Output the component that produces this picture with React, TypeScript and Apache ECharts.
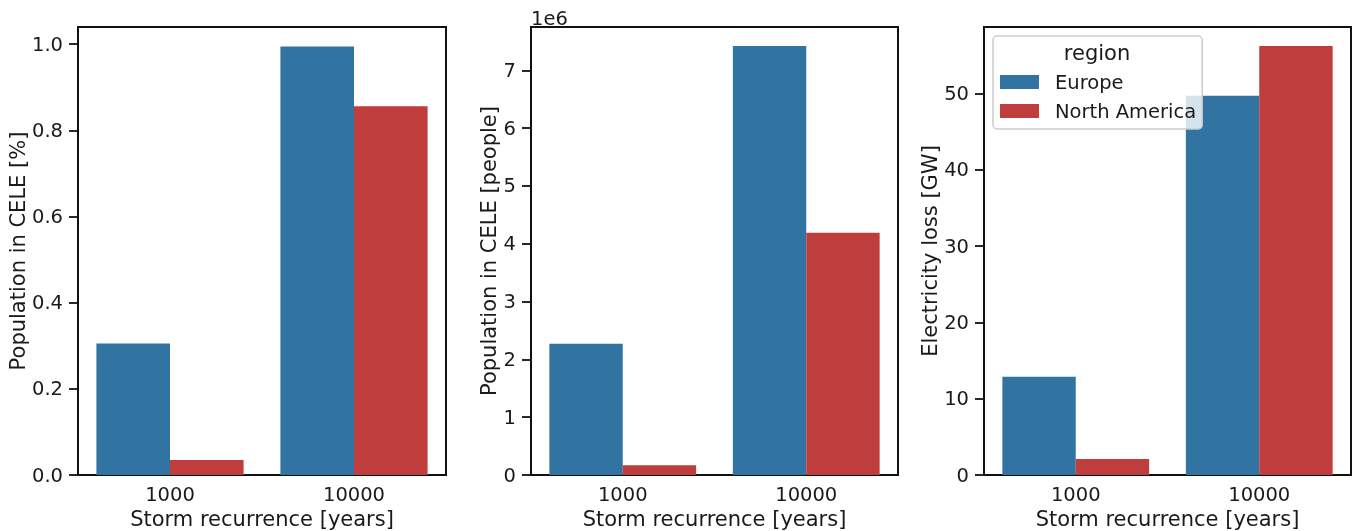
import React, { useEffect, useRef } from 'react';
import * as echarts from 'echarts';

const categories = ['1000', '10000'];
const regions = ['Europe', 'North America'];
const colors = ['#3274a1', '#c03d3e'];

const popPctEurope = [0.305, 0.995];
const popPctNA = [0.035, 0.856];
const popPeopleEurope = [2.27e6, 7.42e6];
const popPeopleNA = [0.17e6, 4.19e6];
const elecEurope = [12.86, 49.7];
const elecNA = [2.1, 56.2];

const ticksPct = [0, 0.2, 0.4, 0.6, 0.8, 1.0];
const ticksPeople = [0, 1e6, 2e6, 3e6, 4e6, 5e6, 6e6, 7e6];
const ticksGW = [0, 10, 20, 30, 40, 50];

const FONT = 'DejaVu Sans';
const TXT = '#1a1a1a';

const panels = [
  { left: 78, width: 368, max: 1.04, ticks: ticksPct, fmt: (v: number) => v.toFixed(1), yName: 'Population in CELE [%]', nameGap: 46, data: [popPctEurope, popPctNA] },
  { left: 531, width: 367, max: 7.75e6, ticks: ticksPeople, fmt: (v: number) => String(Math.round(v / 1e6)), yName: 'Population in CELE [people]', nameGap: 29, data: [popPeopleEurope, popPeopleNA] },
  { left: 984, width: 367, max: 58.7, ticks: ticksGW, fmt: (v: number) => String(Math.round(v)), yName: 'Electricity loss [GW]', nameGap: 42, data: [elecEurope, elecNA] },
];

export default function App() {
  const ref = useRef<HTMLDivElement>(null);
  useEffect(() => {
    if (!ref.current) return;
    const chart = echarts.init(ref.current, undefined, { renderer: 'svg' });
    const grid = panels.map((p) => ({
      left: p.left, top: 27, width: p.width, height: 448,
      outerBoundsMode: 'none', containLabel: false,
      show: true, borderColor: '#111', borderWidth: 2, backgroundColor: 'transparent',
    }));
    const xAxis = panels.map((p, i) => ({
      type: 'category', gridIndex: i, data: categories,
      axisLine: { lineStyle: { color: '#111', width: 2 } },
      axisTick: { alignWithLabel: true, length: 9, lineStyle: { color: '#111', width: 1.8 } },
      axisLabel: { color: TXT, fontFamily: FONT, fontSize: 19.5, margin: 9 },
      name: 'Storm recurrence [years]', nameLocation: 'middle', nameGap: 30,
      nameTextStyle: { color: TXT, fontFamily: FONT, fontSize: 21 },
    }));
    const yAxis = panels.map((p, i) => ({
      type: 'value', gridIndex: i, min: 0, max: p.max,
      splitLine: { show: false },
      axisLine: { show: true, lineStyle: { color: '#111', width: 2 } },
      axisTick: { show: true, length: 9, customValues: p.ticks, lineStyle: { color: '#111', width: 1.8 } },
      axisLabel: { color: TXT, fontFamily: FONT, fontSize: 19.5, margin: 15, customValues: p.ticks, formatter: p.fmt },
      name: p.yName, nameLocation: 'middle', nameGap: p.nameGap,
      nameTextStyle: { color: TXT, fontFamily: FONT, fontSize: 21 },
    }));
    const series: any[] = [];
    panels.forEach((p, i) => {
      regions.forEach((r, j) => {
        series.push({
          type: 'bar', name: r, xAxisIndex: i, yAxisIndex: i, data: p.data[j],
          itemStyle: { color: colors[j] }, barGap: '0%', barCategoryGap: '20%',
        });
      });
    });
    chart.setOption({
      animation: false,
      textStyle: { fontFamily: FONT },
      grid, xAxis, yAxis, series,
      legend: {
        data: regions, orient: 'vertical', left: 993, top: 36,
        padding: [36, 6, 8, 7],
        itemWidth: 39, itemHeight: 14, itemGap: 9,
        borderColor: '#cccccc', borderWidth: 1.5, borderRadius: 4,
        backgroundColor: 'rgba(255,255,255,0.8)',
        icon: 'rect',
        textStyle: { color: TXT, fontFamily: FONT, fontSize: 19.5, padding: [0, 0, 0, 11] },
        selectedMode: false,
      },
      graphic: [
        { type: 'text', left: 531, top: 8, style: { text: '1e6', fontFamily: FONT, fontSize: 19.5, fill: TXT } },
        { type: 'text', x: 1097, y: 53, z: 100, style: { text: 'region', fontFamily: FONT, fontSize: 21, fill: TXT, align: 'center', verticalAlign: 'middle' } },
      ],
    });
    return () => chart.dispose();
  }, []);
  return <div ref={ref} style={{ position: 'fixed', left: 0, top: 0, width: 1357, height: 531 }} />;
}
